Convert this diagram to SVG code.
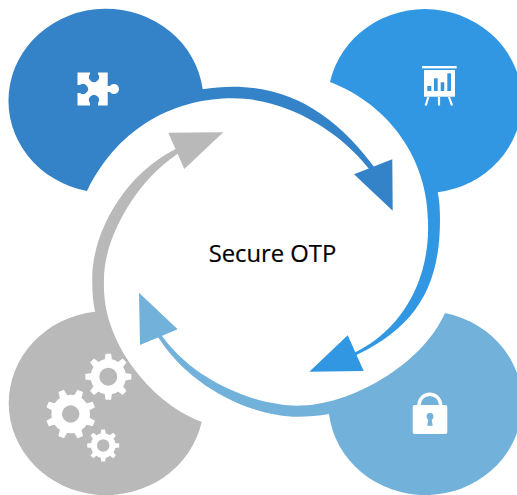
<svg xmlns="http://www.w3.org/2000/svg" width="517" height="495" viewBox="0 0 517 495">
<style>
.c1{fill:#3483c9}.c2{fill:#3297e2}.c3{fill:#72b1d9}.c4{fill:#b9b9b9}
.w{fill:#fff}
.wl{fill:none;stroke:#fff}
text{font-family:"Open Sans","Noto Sans","Liberation Sans",sans-serif;font-size:23.8px;fill:#000;stroke:#000;stroke-width:.2;text-anchor:middle}
</style>
<defs>
<path id="tooth" d="M-4,-18 L-3,-25 H3 L4,-18 Z" fill="#fff"/>
<g id="teeth">
<use href="#tooth"/><use href="#tooth" transform="rotate(45)"/><use href="#tooth" transform="rotate(90)"/><use href="#tooth" transform="rotate(135)"/><use href="#tooth" transform="rotate(180)"/><use href="#tooth" transform="rotate(225)"/><use href="#tooth" transform="rotate(270)"/><use href="#tooth" transform="rotate(315)"/>
</g>
</defs>
<rect width="517" height="495" fill="#fff"/>
<g id="node-puzzle">
<path class="c1" d="M87,191 A97.5,92 0 1 1 202.7,89.3 L233,98.3 C178,98.3 120,124 87,191 Z"/>
<path class="w" d="M77.5,72.5 H90 V74 A5,5 0 1 0 98,74 V72.5 H107.7 V86 H110 A5,5 0 1 1 110,92 H107.7 V105.5 H98 V103 A5,5 0 1 0 90,103 V105.5 H77.5 V93 H80 A5,5 0 1 0 80,85 H77.5 Z"/>
</g>
<g id="node-chart">
<path class="c2" d="M330,82 A97,92 0 1 1 437.7,192.3 L428,222 C428,160 390,105 330,82 Z"/>
<rect class="w" x="422" y="66" width="34.7" height="2.4"/>
<rect class="w" x="424" y="70" width="31" height="26.7"/>
<rect class="c2" x="427.3" y="86" width="4" height="5"/>
<rect class="c2" x="434" y="78.3" width="3.7" height="12.7"/>
<rect class="c2" x="440.7" y="82.3" width="3.6" height="8.7"/>
<rect class="c2" x="447.3" y="73.3" width="3.7" height="17.7"/>
<path class="wl" stroke-width="2.2" d="M428.3,97 L425.7,105.5 M439,97 V105.5 M449,97 L452,105.5"/>
</g>
<g id="node-lock">
<path class="c3" d="M445,313 A97,92 0 1 1 329,414 L298,405.7 C350,405.7 422,365 445,313 Z"/>
<path class="wl" stroke-width="3.4" d="M419,406 V405 A10.8,10.8 0 0 1 440.6,405 V406"/>
<rect class="w" x="412.7" y="405" width="34.6" height="29" rx="2"/>
<circle class="c3" cx="430" cy="416.5" r="3.4"/>
<path class="c3" d="M428.6,418 L427.3,425.7 H432.7 L431.4,418 Z"/>
</g>
<g id="node-gears">
<path class="c4" d="M201.7,421.7 A97.5,92 0 1 1 95,311.7 L104,283 C102,345 155,405 201.7,421.7 Z"/>
<g transform="translate(108.3,376.7) scale(.92)"><use href="#teeth"/><circle class="wl" r="14.5" stroke-width="9.5"/></g>
<g transform="translate(70.7,414) rotate(22.5)"><use href="#teeth"/><circle class="wl" r="14" stroke-width="10.5"/></g>
<g transform="translate(103.2,445.5) scale(.64)"><use href="#teeth"/><circle class="wl" r="14.5" stroke-width="9.5"/></g>
</g>
<g id="connectors">
<path class="c1" d="M202.7,89.3 C212,87.6 223,86.7 233,86.7 C293,86.7 338,117 378,172 L373,174 C345,135 290,98.3 233,98.3 L205,95 Z"/>
<polygon class="c1" points="354,174.3 392.3,159.3 392.7,210.7"/>
<path class="c2" d="M437.7,192.3 C439.5,201 440,210 440,220 C440,290 413,330 350,358 L347.5,356 C402,333 430,280 428,222 L430,190 Z"/>
<polygon class="c2" points="309.3,371.7 363.7,371 347.7,335.3"/>
<path class="c3" d="M329,414 C319,416 308,416.7 298,416.7 C250,416.7 185,385 155,331.7 L158,330 C190,380 255,405.7 298,405.7 L325,406 Z"/>
<polygon class="c3" points="139,292.7 177.7,329.3 140,345"/>
<path class="c4" d="M95,311.7 C93,302 92.3,293 92.3,283 C90,235 125,170 184,145 L184,150 C137,177 102,240 104,283 L100,308 Z"/>
<polygon class="c4" points="168.3,132.7 223.3,132.3 184.3,169"/>
</g>
<g id="node-center"><text x="272.5" y="262">Secure OTP</text></g>
</svg>
